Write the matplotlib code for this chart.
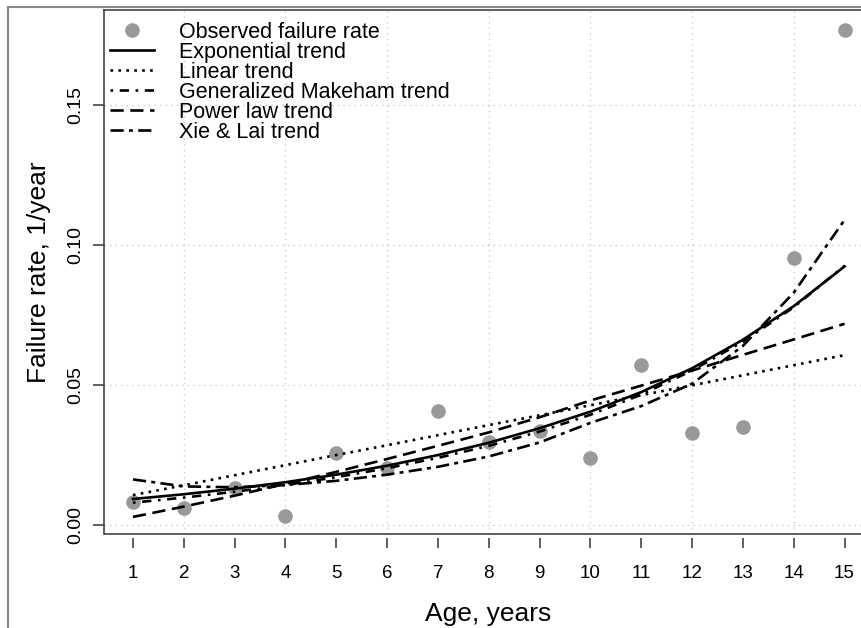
import matplotlib
matplotlib.use('Agg')
import matplotlib.pyplot as plt
from matplotlib.lines import Line2D

plt.rcParams['font.family'] = ['Liberation Sans', 'DejaVu Sans']

# ages and observed failure rates (1/year)
age = [1, 2, 3, 4, 5, 6, 7, 8, 9, 10, 11, 12, 13, 14, 15]
observed = [0.0082, 0.0060, 0.0134, 0.0032, 0.0257, 0.0204, 0.0407, 0.0296,
            0.0336, 0.0239, 0.0570, 0.0330, 0.0350, 0.0954, 0.1768]

exponential = [0.0093, 0.0110, 0.0130, 0.0153, 0.0180, 0.0212, 0.0250, 0.0294,
               0.0346, 0.0405, 0.0475, 0.0560, 0.0662, 0.0782, 0.0924]
linear = [0.0107, 0.0142, 0.0178, 0.0214, 0.0250, 0.0285, 0.0321, 0.0357,
          0.0392, 0.0428, 0.0464, 0.0499, 0.0535, 0.0571, 0.0607]
makeham = [0.0080, 0.0098, 0.0119, 0.0143, 0.0171, 0.0203, 0.0240, 0.0283,
           0.0334, 0.0394, 0.0466, 0.0552, 0.0655, 0.0778, 0.0926]
power_law = [0.0029, 0.0066, 0.0105, 0.0147, 0.0190, 0.0236, 0.0283, 0.0331,
             0.0385, 0.0445, 0.0498, 0.0552, 0.0608, 0.0663, 0.0719]
xie_lai = [0.0163, 0.0138, 0.0135, 0.0143, 0.0158, 0.0180, 0.0208, 0.0245,
           0.0295, 0.0365, 0.0425, 0.0505, 0.0640, 0.0830, 0.1090]

y_ticks = [0.00, 0.05, 0.10, 0.15]
y_ticklabels = ["0.00", "0.05", "0.10", "0.15"]

W, H = 862, 628
fig = plt.figure(figsize=(W / 100, H / 100), dpi=100)
# plot region runs past the right edge of the picture (cropped)
ax = fig.add_axes([104 / W, (H - 534) / H, (873 - 104) / W, (534 - 10) / H])

frame = '#444444'
for side in ['left', 'top']:
    ax.spines[side].set_color(frame)
    ax.spines[side].set_linewidth(1.2)
ax.spines['right'].set_visible(False)
ax.spines['bottom'].set_visible(False)
ax.spines['bottom'].set_position(('outward', 3))
ax.plot([0, 1], [0, 0], transform=ax.transAxes, color=frame, lw=1.2,
        clip_on=False, solid_capstyle='butt')

# dotted grid
for gx in [2, 4, 6, 8, 10, 12, 14]:
    ax.axvline(gx, color='#cccccc', lw=1, dashes=(1, 3), zorder=0)
for gy in y_ticks:
    ax.axhline(gy, color='#cccccc', lw=1, dashes=(1, 3), zorder=0)

ax.plot(age, observed, 'o', color='#999999', ms=10.5, mec='none',
        label='Observed failure rate', zorder=2)
lw = 1.9
ax.plot(age, exponential, color='black', lw=lw, label='Exponential trend', zorder=3)
ax.plot(age, linear, color='black', lw=lw, dashes=(1, 2), label='Linear trend', zorder=3)
ax.plot(age, makeham, color='black', lw=lw, dashes=(1, 2.5, 3.5, 2.5),
        label='Generalized Makeham trend', zorder=3)
ax.plot(age, power_law, color='black', lw=lw, dashes=(5, 2.5), label='Power law trend', zorder=3)
ax.plot(age, xie_lai, color='black', lw=lw, dashes=(5, 2, 1.5, 2),
        label='Xie & Lai trend', zorder=3)

ax.set_xlim(0.43, 15.56)
ax.set_ylim(-0.0032, 0.184)
ax.set_xticks(age)
ax.set_xticklabels([str(a) for a in age])
ax.set_yticks(y_ticks)
ax.set_yticklabels(y_ticklabels, rotation=90, va='center')
ax.tick_params(axis='x', length=7.5, width=1.2, color=frame, pad=12, labelsize=13.5)
ax.tick_params(axis='y', length=8, width=1.2, color=frame, pad=6, labelsize=14)

ax.set_xlabel('Age, years', fontsize=19, labelpad=14)
ax.set_ylabel('Failure rate, 1/year', fontsize=19, labelpad=12)

leg = ax.legend(loc='upper left', bbox_to_anchor=(110 / W, (H - 22) / H),
                bbox_transform=fig.transFigure, frameon=False, fontsize=15.5,
                borderpad=0, borderaxespad=0, handlelength=2.05, handletextpad=1.15,
                labelspacing=-0.05)

# gray border of the original screenshot
fig.add_artist(Line2D([8 / W, 8 / W], [0, (H - 7) / H], color='#888888', lw=1.5))
fig.add_artist(Line2D([8 / W, 1], [(H - 7) / H, (H - 7) / H], color='#888888', lw=1.5))

fig.savefig('out.png', dpi=100)
